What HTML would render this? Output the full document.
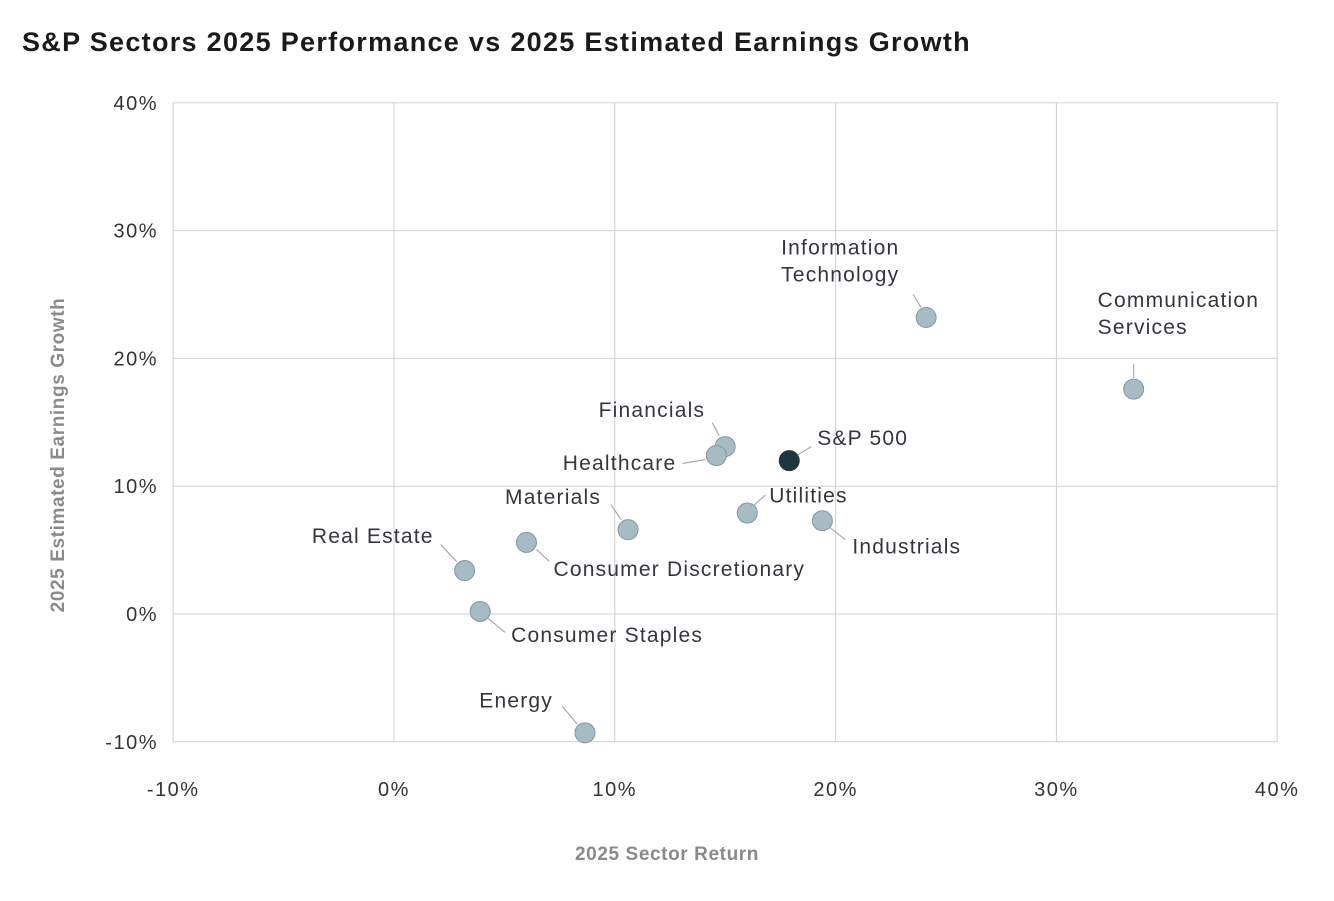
<!DOCTYPE html>
<html><head><meta charset="utf-8"><style>
body{margin:0;background:#fff;width:1334px;height:896px;overflow:hidden;font-family:"Liberation Sans",sans-serif}
</style></head><body>
<svg id="chart" width="1334" height="896" xmlns="http://www.w3.org/2000/svg">
<text x="22" y="51" font-size="27" font-weight="bold" letter-spacing="1.3" fill="#1a1a1a" font-family="Liberation Sans, sans-serif">S&amp;P Sectors 2025 Performance vs 2025 Estimated Earnings Growth</text>
<g id="grid"></g><g id="marks"></g>
<text x="667" y="860" text-anchor="middle" font-size="19" font-weight="bold" letter-spacing="0.6" fill="#8a8a8a">2025 Sector Return</text>
<text transform="translate(64,455) rotate(-90)" text-anchor="middle" font-size="19" font-weight="bold" letter-spacing="0.6" fill="#8a8a8a">2025 Estimated Earnings Growth</text>
</svg>
<script>
const xTicks=[-10,0,10,20,30,40];
const yTicks=[-10,0,10,20,30,40];
const names=["Information Technology","Communication Services","Financials","Healthcare","S&P 500","Utilities","Industrials","Materials","Consumer Discretionary","Real Estate","Consumer Staples","Energy"];
const returns=[24.1,33.5,15.0,14.6,17.9,16.0,19.4,10.6,6.0,3.2,3.9,8.65];
const growth=[23.2,17.6,13.1,12.4,12.0,7.9,7.3,6.6,5.6,3.4,0.2,-9.3];
const lay=[[-145,-49,"start",-13,-23,-5,-10],[-36,-68,"start",0,-25,0,-11],[-20,-35,"end",-13,-24,-6,-11],[-40,9,"end",-34,8,-11,4],[28,-21,"start",9,-6,22,-14],[22,-16,"start",7,-8,18,-18],[30,27,"start",8,7,23,19],[-27,-31,"end",-17,-25,-7,-10],[27,28,"start",10,7,23,19],[-31,-33,"end",-24,-26,-8,-9],[31,25,"start",8,7,25,21],[-32,-31,"end",-23,-27,-8,-9]];
const X=v=>394+(v*22.08), Y=v=>614-(v*12.78);
const ns="http://www.w3.org/2000/svg";
const g=document.getElementById("grid"), m=document.getElementById("marks");
function mk(p,tag,a){const e=document.createElementNS(ns,tag);for(const k in a)e.setAttribute(k,a[k]);p.appendChild(e);return e;}
xTicks.forEach(t=>{
 const l=mk(g,"line",{x1:X(t),x2:X(t),y1:Y(40),y2:Y(-10),stroke:"#d0d0d0","stroke-width":1});
 
 
 const tx=mk(g,"text",{x:X(t),y:796,"text-anchor":"middle","font-size":20,"letter-spacing":1.5,fill:"#333"});
 tx.textContent=t+"%";
 
 
});
yTicks.forEach(t=>{
 const l=mk(g,"line",{x1:X(-10),x2:X(40),y1:Y(t),y2:Y(t),stroke:"#d0d0d0","stroke-width":1});
 
 
 const tx=mk(g,"text",{x:158,y:Y(t)+7,"text-anchor":"end","font-size":20,"letter-spacing":1.5,fill:"#333"});
 tx.textContent=t+"%";
 
 
});
names.forEach((n,i)=>{
 const cx=X(returns[i]),cy=Y(growth[i]),L=lay[i];
 const ln=mk(m,"line",{x1:cx+L[3],y1:cy+L[4],x2:cx+L[5],y2:cy+L[6],stroke:"#aaa","stroke-width":1.2});
 
 
 const sp=n==="S&P 500";
 const c=mk(m,"circle",{cx:cx,cy:cy,r:10,fill:sp?"#1e363f":"#a6bcc4",stroke:sp?"#1e363f":"#7f98a1","stroke-width":1});
 
 
 const t=mk(m,"text",{x:cx+L[0],y:cy+L[1],"text-anchor":L[2],"font-size":21,"letter-spacing":1.2,fill:"#33363d"});
 
 
 if(n==="Information Technology"){t.innerHTML='<tspan x="'+(cx+L[0])+'" dy="0">Information</tspan><tspan x="'+(cx+L[0])+'" dy="27">Technology</tspan>';t.setAttribute('y',cy+L[1]-20);}
 else if(n==="Communication Services"){t.innerHTML='<tspan x="'+(cx+L[0])+'" dy="0">Communication</tspan><tspan x="'+(cx+L[0])+'" dy="27">Services</tspan>';t.setAttribute('y',cy+L[1]-20);}
 else t.textContent=n;
 t.setAttribute('dominant-baseline','middle');
});
</script>
</body></html>
